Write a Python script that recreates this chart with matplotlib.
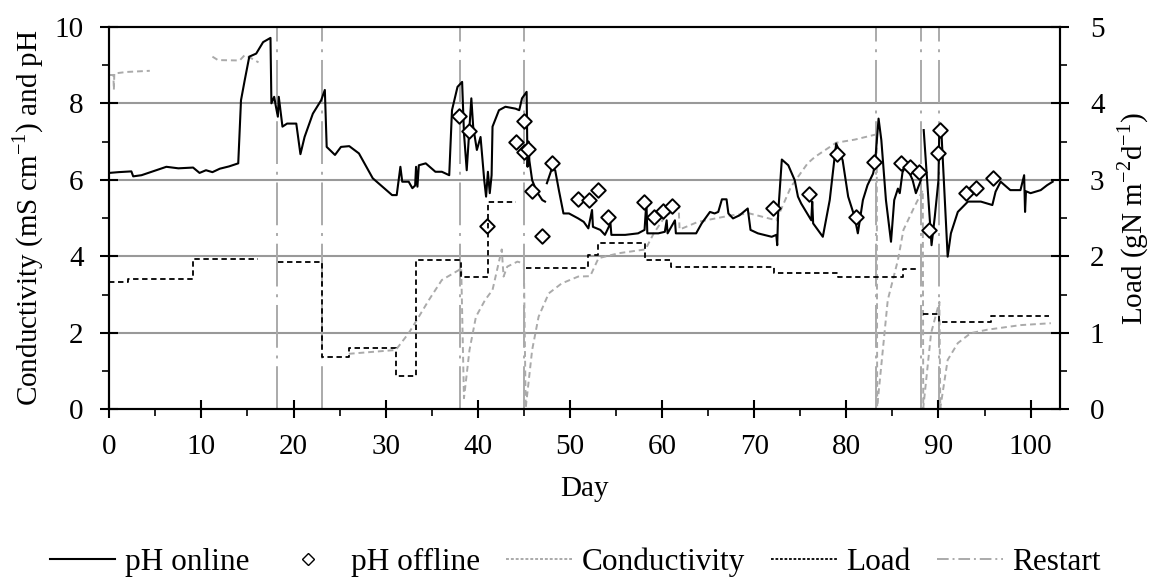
import numpy as np
import matplotlib.pyplot as plt
from matplotlib.lines import Line2D
from matplotlib.ticker import MultipleLocator

plt.rcParams['font.family'] = ['Liberation Serif', 'DejaVu Serif']
plt.rcParams['mathtext.fontset'] = 'custom'
plt.rcParams['mathtext.rm'] = 'Liberation Serif'

nan = np.nan

# pH online (day, pH)
ph_day = [0.0, 1.0, 2.4, 2.6, 3.5, 6.2, 7.5, 9.1, 9.8, 10.5, 11.2, 12.0, 13.0, 14.0,
          14.3, 14.7, 15.2, 15.95, 16.7, 17.5, 17.6, 17.9, 18.1, 18.3, 18.4, 18.8, 19.3,
          20.3, 20.75, 21.2, 22.1, 23.0, 23.4, 23.6, 24.5, 25.15, 26.05, 27.1, 28.6,
          29.65, 30.7, 31.2, 31.6, 31.8, 32.5, 32.9, 33.2, 33.3, 33.45, 33.6, 34.35,
          35.4, 36.1, 36.9, 37.2, 37.8, 38.3, 38.5, 38.8, 39.1, 39.3, 39.5, 39.9, 40.3,
          40.7, 40.9, 41.1, 41.3, 41.5, 41.6, 42.3, 43.0, 44.1, 44.5, 44.8, 45.3, 45.4,
          45.5, 45.6, 45.9, 46.4, 47.0, 47.3, 47.4, 47.5, 48.05, 48.4, 48.8, 49.3, 49.9,
          50.9, 51.5, 52.0, 52.4, 52.5, 53.3, 53.8, 54.4, 54.5, 56.0, 57.4, 58.1, 58.3, 58.4,
          59.6, 60.3, 60.5, 60.6, 61.4, 61.5, 62.5, 63.7, 64.3, 65.2, 65.7, 66.1, 66.5,
          67.0, 67.2, 67.7, 68.4, 69.3, 69.6, 70.4, 71.9, 72.4, 72.5, 72.6, 73.0, 73.7,
          74.4, 74.75, 75.1, 76.2, 76.3, 76.4, 77.45, 78.2, 78.9, 79.6, 80.2, 80.9, 81.25,
          81.8, 82.3, 82.9, 83.1, 83.5, 83.8, 84.3, 84.85, 85.2, 85.6, 85.8, 86.1, 86.5,
          87.2, 87.55, 88.1, 88.3, 88.4, 89.25, 89.6, 90.0, 90.1, 90.2, 90.3, 91.0, 91.35,
          92.1, 93.2, 94.6, 95.85, 96.2, 96.75, 97.8, 98.9, 99.3, 99.4, 99.5, 100.0,
          101.1, 101.8, 102.4]
ph_online = [6.18, 6.20, 6.22, 6.09, 6.12, 6.34, 6.30, 6.32, 6.18, 6.25, 6.20, 6.29, 6.35, 6.43,
             8.08, 8.60, 9.22, 9.30, 9.60, 9.71, 8.00, 8.17, 7.90, 7.65, 8.17, 7.39, 7.47,
             7.47, 6.67, 7.12, 7.73, 8.08, 8.35, 6.86, 6.65, 6.86, 6.88, 6.69, 6.04,
             5.82, 5.60, 5.60, 6.34, 5.95, 5.95, 5.78, 5.85, 6.34, 5.82, 6.38, 6.43,
             6.21, 6.21, 6.12, 7.82, 8.43, 8.56, 7.22, 6.25, 7.39, 8.13, 7.39, 6.78, 7.12,
             5.99, 5.56, 6.21, 5.65, 6.12, 7.39, 7.82, 7.91, 7.86, 7.82, 8.13, 8.30, 6.34,
             7.00, 6.50, 5.99, 5.69, 5.47, 5.43, nan, 5.91, 6.30, 6.25, 5.73, 5.12, 5.12,
             4.99, 4.90, 4.73, 5.21, 4.77, 4.69, 4.56, 4.86, 4.56, 4.56, 4.60, 4.69, 5.43, 4.60,
             4.60, 4.64, 4.94, 4.60, 4.94, 4.60, 4.60, 4.60, 4.86, 5.16, 5.12, 5.16, 5.49,
             5.49, 5.12, 4.99, 5.07, 5.25, 4.69, 4.60, 4.51, 4.56, 4.29, 5.12, 6.53, 6.38,
             5.99, 5.56, 5.38, 4.94, 5.43, 4.86, 4.51, 5.47, 6.95, 6.51, 5.56, 5.03, 4.60,
             5.47, 5.86, 6.16, 6.38, 7.60, 7.04, 5.47, 4.38, 5.47, 5.77, 5.65, 6.20, 6.38,
             5.99, 5.65, 5.99, nan, 7.30, 4.29, 5.03, 5.99, 7.39, 7.30, 7.35, 3.99, 4.60,
             5.16, 5.43, 5.43, 5.34, 5.69, 5.95, 5.73, 5.73, 6.12, 5.16, 5.70, 5.65,
             5.73, 5.86, 5.95]

# pH offline samples
off_day = [38.0, 39.0, 41.0, 44.1, 45.0, 45.0, 45.4, 45.9, 47.0, 48.05, 50.9, 52.1, 53.1,
           54.1, 58.0, 59.1, 60.1, 61.1, 72.0, 76.0, 79.0, 81.0, 83.05, 85.9, 86.9, 87.85,
           89.0, 89.9, 90.15, 93.0, 94.05, 95.9]
ph_offline = [7.67, 7.27, 4.79, 7.00, 7.54, 6.73, 6.81, 5.71, 4.54, 6.43, 5.50, 5.47, 5.73,
              5.03, 5.43, 5.02, 5.19, 5.32, 5.25, 5.62, 6.67, 5.02, 6.46, 6.45, 6.34, 6.21,
              4.70, 6.69, 7.30, 5.66, 5.78, 6.05]

# conductivity (mS/cm)
cond_day = [0.0, 0.45, 0.5, 0.55, 1.9, 4.4, 4.5, 11.2, 11.8, 14.15, 14.7, 15.4, 16.2, 16.3,
            26.0, 31.1, 32.5, 33.3, 34.7, 36.1, 37.95, 38.2, 38.5, 39.1, 39.8, 40.8,
            41.6, 42.6, 42.8, 43.2, 44.3, 45.0, 45.2, 45.9, 46.6, 47.7, 49.1, 50.9, 52.2,
            53.1, 55.3, 58.2, 59.1, 60.3, 61.8, 61.9, 63.9, 67.5, 69.5, 72.4, 74.0, 75.8,
            76.6, 78.9, 80.9, 83.3, 83.35, 84.5, 85.6, 86.2, 87.4, 88.3, 88.35, 89.2,
            90.1, 90.2, 91.0, 92.1, 93.5, 95.3, 98.9, 102.2]
cond = [8.74, 8.74, 8.35, 8.78, 8.82, 8.85, nan, 9.22, 9.13, 9.12, 9.26, 9.18, 9.07, nan,
        1.45, 1.55, 1.99, 2.30, 2.86, 3.38, 3.64, 3.70, 0.29, 1.55, 2.42, 2.86,
        3.12, 4.18, 3.47, 3.73, 3.86, 3.81, 0.03, 1.55, 2.42, 3.03, 3.29, 3.47, 3.48,
        3.95, 4.08, 4.18, 4.60, 5.03, 5.30, 4.70, 4.90, 5.07, 5.12, 4.94, 5.82, 6.43,
        6.60, 6.97, 7.05, 7.19, 0.06, 2.86, 3.90, 4.69, 5.30, 5.73, 0.03, 1.99,
        2.81, 0.03, 1.29, 1.73, 1.99, 2.08, 2.20, 2.25]

# nitrogen load (gN m-2 d-1), step changes
load_day = [0.0, 2.06, 9.1, 16.1, 18.3, 23.1, 26.0, 31.1, 33.3, 38.2, 41.1, 44.2, 45.2,
            52.0, 53.1, 58.2, 61.0, 72.15, 79.1, 86.1, 87.9, 88.3, 90.1, 95.75, 102.0]
load = [1.67, 1.70, 1.96, nan, 1.92, 0.68, 0.80, 0.43, 1.95, 1.73, 2.71, nan, 1.85,
        2.02, 2.18, 1.95, 1.86, 1.78, 1.73, 1.84, nan, 1.24, 1.14, 1.22, 1.22]

restart_days = [18.2, 23.1, 38.1, 45.05, 83.2, 88.1, 90.1]

FS = 21
GREY = '#aaaaaa'

fig = plt.figure(figsize=(11.5, 5.83), dpi=100)
ax = fig.add_axes([0.095, 0.298, 0.8268, 0.656])
ax2 = ax.twinx()

for d in restart_days:
    ax.axvline(d, color=GREY, lw=1.4, ls=(0, (22, 4, 1.5, 4)), zorder=1)

ax.plot(cond_day, cond, color=GREY, lw=1.4, ls=(0, (3, 2)), zorder=2)
ax2.step(load_day, load, where='post', color='black', lw=1.3, ls=(0, (3, 2)), zorder=2)
ax.plot(ph_day, ph_online, color='black', lw=1.5, zorder=3)
ax.scatter(off_day, ph_offline, marker='D', s=55, facecolors='white',
           edgecolors='black', linewidths=1.4, zorder=4)

ax.set_xlim(0, 103.2)
ax.set_ylim(0, 10)
ax2.set_ylim(0, 5)
ax.set_yticks([0, 2, 4, 6, 8, 10])
ax.yaxis.set_minor_locator(MultipleLocator(1))
ax2.set_yticks([0, 1, 2, 3, 4, 5])
ax2.yaxis.set_minor_locator(MultipleLocator(0.5))
ax.set_xticks(range(0, 101, 10))
ax.xaxis.set_minor_locator(MultipleLocator(5))

for y in [2, 4, 6, 8]:
    ax.axhline(y, color='#999999', lw=1.5, zorder=0)

for a in (ax, ax2):
    for s in a.spines.values():
        s.set_linewidth(1.5)
ax.tick_params(which='major', direction='inout', length=13, width=1.5, labelsize=FS)
ax.tick_params(axis='x', which='major', pad=11)
ax.tick_params(axis='y', which='major', pad=12)
ax.tick_params(which='minor', direction='out', length=5, width=1.2)
ax2.tick_params(which='major', direction='inout', length=13, width=1.5,
                labelsize=FS, pad=15)
ax2.tick_params(which='minor', direction='out', length=5, width=1.2)

ax.set_xlabel('Day', fontsize=FS, labelpad=12)
ax.set_ylabel('Conductivity (mS cm$^{\\mathrm{-1}}$) and pH', fontsize=FS, labelpad=6)
ax2.set_ylabel('Load (gN m$^{\\mathrm{-2}}$d$^{\\mathrm{-1}}$)', fontsize=FS, labelpad=8)

handles = [
    Line2D([], [], color='black', lw=1.5),
    Line2D([], [], color='black', marker='D', ls='none', markersize=6,
           markerfacecolor='white', markeredgewidth=1.0),
    Line2D([], [], color=GREY, lw=1.4, ls=(0, (1.5, 1))),
    Line2D([], [], color='black', lw=1.3, ls=(0, (1.5, 1))),
    Line2D([], [], color=GREY, lw=1.4, ls=(0, (6, 2, 1, 2))),
]
labels = ['pH online', 'pH offline', 'Conductivity', 'Load', 'Restart']
fig.legend(handles, labels, loc='center', bbox_to_anchor=(0.5, 0.035), ncol=5,
           frameon=False, fontsize=22.5, handlelength=2.1, handletextpad=0.3,
           columnspacing=0.85)

fig.savefig('out.png', dpi=100)
